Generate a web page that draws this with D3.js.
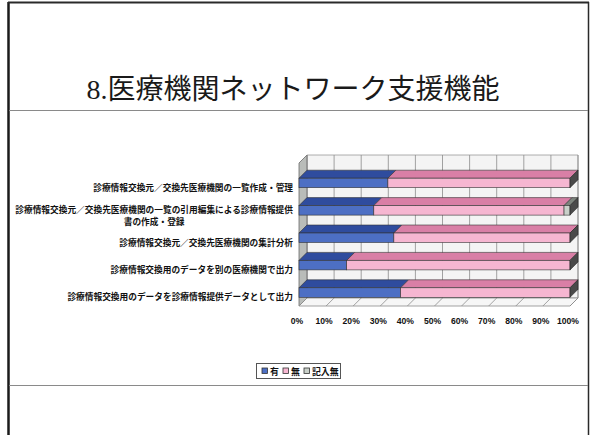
<!DOCTYPE html>
<html>
<head>
<meta charset="utf-8">
<script src="https://cdn.jsdelivr.net/npm/d3@7"></script>
<style>
  html, body { margin: 0; padding: 0; background: #fff; }
  svg { display: block; }
</style>
</head>
<body>
<svg id="chart" width="590" height="435"></svg>
<script>
// ---- data ----
const titleText = "医療機関ネットワーク支援機能";
const titleNumber = "8.";
const categories = [
  "診療情報交換元／交換先医療機関の一覧作成・管理",
  "診療情報交換元／交換先医療機関の一覧の引用編集による診療情報提供書の作成・登録",
  "診療情報交換元／交換先医療機関の集計分析",
  "診療情報交換用のデータを別の医療機関で出力",
  "診療情報交換用のデータを診療情報提供データとして出力"
];
// line breaks used for long category labels
const categoryLines = [
  ["診療情報交換元／交換先医療機関の一覧作成・管理"],
  ["診療情報交換元／交換先医療機関の一覧の引用編集による診療情報提供", "書の作成・登録"],
  ["診療情報交換元／交換先医療機関の集計分析"],
  ["診療情報交換用のデータを別の医療機関で出力"],
  ["診療情報交換用のデータを診療情報提供データとして出力"]
];
const seriesNames = ["有", "無", "記入無"];
const yesValues   = [32.8, 27.6, 35.0, 17.6, 37.5];
const noValues    = [67.2, 70.2, 65.0, 82.4, 62.5];
const blankValues = [0.0, 2.2, 0.0, 0.0, 0.0];
const tickValues  = [0, 10, 20, 30, 40, 50, 60, 70, 80, 90, 100];
const tickLabels  = ["0%", "10%", "20%", "30%", "40%", "50%", "60%", "70%", "80%", "90%", "100%"];

// ---- styles ----
const colors = {
  "有":    { front: "#4d6fc4", top: "#2f4c9e", side: "#253d80" },
  "無":    { front: "#f6b6d1", top: "#d97fa6", side: "#4a4a4a" },
  "記入無": { front: "#c9d0c9", top: "#7d847d", side: "#4a4a4a" }
};
const jp = "'Noto Sans CJK JP', 'Noto Sans', sans-serif";

const svg = d3.select("#chart");

// ---- slide frame ----
svg.append("line").attr("x1", 8.5).attr("x2", 8.5).attr("y1", 2).attr("y2", 435)
  .attr("stroke", "#1a1a1a").attr("stroke-width", 2.5);
svg.append("line").attr("x1", 8).attr("x2", 589).attr("y1", 2.5).attr("y2", 2.5)
  .attr("stroke", "#2a2a2a").attr("stroke-width", 2);
svg.append("line").attr("x1", 588.5).attr("x2", 588.5).attr("y1", 2).attr("y2", 435)
  .attr("stroke", "#2a2a2a").attr("stroke-width", 1.5);
svg.append("line").attr("x1", 9).attr("x2", 588).attr("y1", 110.5).attr("y2", 110.5)
  .attr("stroke", "#8a8a8a").attr("stroke-width", 1.2);
svg.append("line").attr("x1", 9).attr("x2", 588).attr("y1", 385.5).attr("y2", 385.5)
  .attr("stroke", "#8a8a8a").attr("stroke-width", 1.2);

// ---- title ----
const title = svg.append("text").attr("x", 293).attr("y", 99)
  .attr("text-anchor", "middle").attr("font-size", 28).attr("fill", "#1a1a1a");
title.append("tspan").attr("font-family", "'Liberation Serif', serif").text(titleNumber);
title.append("tspan").attr("font-family", jp).attr("font-weight", 400).text(titleText);

// ---- 3D plot geometry ----
const dx = 8, dy = 8;                 // depth offset of the 3D box
const x = d3.scaleLinear().domain([0, 100]).range([299, 570]);
const y = d3.scaleBand().domain(categories).range([164.5, 301.5]);
const frontTop = 163, frontBottom = 306;
const barH = 9.5;

const plot = svg.append("g");

// back wall
plot.append("polygon")
  .attr("points", [[x(0)+dx, frontTop-dy], [x(100)+dx, frontTop-dy], [x(100)+dx, frontBottom-dy], [x(0)+dx, frontBottom-dy]].join(" "))
  .attr("fill", "#f4f4f4").attr("stroke", "#9a9a9a").attr("stroke-width", 0.8);
// left wall
plot.append("polygon")
  .attr("points", [[x(0), frontTop], [x(0)+dx, frontTop-dy], [x(0)+dx, frontBottom-dy], [x(0), frontBottom]].join(" "))
  .attr("fill", "#b9bcb9").attr("stroke", "#6a6a6a").attr("stroke-width", 0.8);
// floor
plot.append("polygon")
  .attr("points", [[x(0), frontBottom], [x(0)+dx, frontBottom-dy], [x(100)+dx, frontBottom-dy], [x(100), frontBottom]].join(" "))
  .attr("fill", "#f6f6f6").attr("stroke", "#8a8a8a").attr("stroke-width", 0.8);

// gridlines on back wall and floor
plot.selectAll("line.wallgrid").data(tickValues).join("line").attr("class", "wallgrid")
  .attr("x1", d => x(d)+dx).attr("x2", d => x(d)+dx)
  .attr("y1", frontTop-dy).attr("y2", frontBottom-dy)
  .attr("stroke", "#8c8c8c").attr("stroke-width", 0.8);
plot.selectAll("line.floorgrid").data(tickValues).join("line").attr("class", "floorgrid")
  .attr("x1", d => x(d)).attr("x2", d => x(d)+dx)
  .attr("y1", frontBottom).attr("y2", frontBottom-dy)
  .attr("stroke", "#8c8c8c").attr("stroke-width", 0.8);

// ---- stacked 3D bars ----
const rows = categories.map((c, i) => ({ cat: c, "有": yesValues[i], "無": noValues[i], "記入無": blankValues[i] }));
const stacked = d3.stack().keys(seriesNames)(rows);

const bars = plot.append("g");
rows.forEach((row, i) => {
  const yt = y(row.cat) + y.bandwidth() / 2;
  const yb = yt + barH;
  const segs = stacked.map(s => ({ key: s.key, x0: s[i][0], x1: s[i][1] })).filter(s => s.x1 - s.x0 > 0);
  segs.forEach((s, j) => {
    const a = x(s.x0), b = x(s.x1), c = colors[s.key];
    // top face
    bars.append("polygon")
      .attr("points", [[a, yt], [a+dx, yt-dy], [b+dx, yt-dy], [b, yt]].join(" "))
      .attr("fill", c.top).attr("stroke", "#333").attr("stroke-width", 0.6);
    // front face
    bars.append("rect").attr("x", a).attr("y", yt).attr("width", b - a).attr("height", barH)
      .attr("fill", c.front).attr("stroke", "#333").attr("stroke-width", 0.6);
    // right end face
    if (j === segs.length - 1) {
      bars.append("polygon")
        .attr("points", [[b, yt], [b+dx, yt-dy], [b+dx, yb-dy], [b, yb]].join(" "))
        .attr("fill", c.side).attr("stroke", "#222").attr("stroke-width", 0.6);
    }
  });
});

// ---- category labels ----
const labelX = 293;
const labels = svg.append("g").attr("font-family", jp).attr("font-weight", 700)
  .attr("font-size", 8.7).attr("fill", "#111");
categories.forEach((c, i) => {
  const lines = categoryLines[i];
  const cy = y(c) + y.bandwidth() / 2 + 9;
  const lh = 12;
  const t = labels.append("text").attr("dominant-baseline", "central");
  if (lines.length === 1) {
    t.attr("x", labelX).attr("y", cy).attr("text-anchor", "end").text(lines[0]);
  } else {
    t.attr("text-anchor", "middle");
    const spans = lines.map((ln, k) => t.append("tspan")
      .attr("y", cy + (k - (lines.length - 1) / 2) * lh).text(ln));
    const w = d3.max(spans, s => s.node().getComputedTextLength());
    spans.forEach(s => s.attr("x", labelX - w / 2));
  }
});

// ---- value axis labels ----
svg.append("g").attr("font-family", "'Liberation Sans', Arial, sans-serif").attr("font-weight", 700)
  .attr("font-size", 8.6).attr("fill", "#111")
  .selectAll("text").data(tickValues).join("text")
  .attr("x", d => x(d) - 2).attr("y", 321).attr("text-anchor", "middle")
  .attr("dominant-baseline", "central")
  .text((d, i) => tickLabels[i]);

// ---- legend ----
const legend = svg.append("g");
legend.append("rect").attr("x", 256.5).attr("y", 363.5).attr("width", 84).attr("height", 15)
  .attr("fill", "#fff").attr("stroke", "#555").attr("stroke-width", 1);
const legendPos = [262, 283, 304];
seriesNames.forEach((n, i) => {
  legend.append("rect").attr("x", legendPos[i]).attr("y", 368).attr("width", 5.5).attr("height", 5.5)
    .attr("fill", colors[n].front).attr("stroke", "#333").attr("stroke-width", 0.8);
  legend.append("text").attr("x", legendPos[i] + 8).attr("y", 371)
    .attr("dominant-baseline", "central").attr("font-family", jp).attr("font-weight", 700)
    .attr("font-size", 8.9).attr("fill", "#111").text(n);
});
</script>
</body>
</html>
